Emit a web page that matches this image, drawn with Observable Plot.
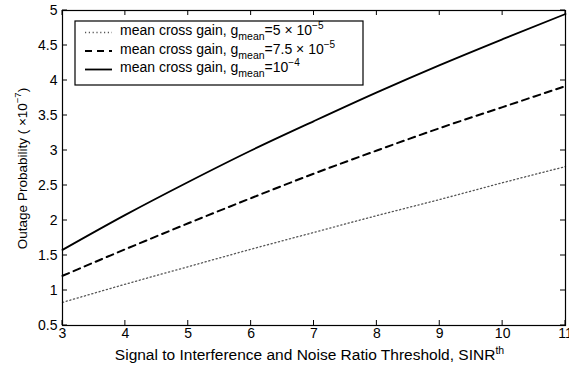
<!DOCTYPE html>
<html><head><meta charset="utf-8">
<script src="https://cdn.jsdelivr.net/npm/d3@7"></script>
<script src="https://cdn.jsdelivr.net/npm/@observablehq/plot@0.6"></script>
<style>
body{margin:0;background:#fff}
svg{font-family:"Liberation Sans",Arial,Helvetica,sans-serif}
</style>
</head><body><div id="chart"></div>
<script>
const sinr = [3, 4, 5, 6, 7, 8, 9, 10, 11];
const gain5 = [0.83, 1.09, 1.34, 1.59, 1.83, 2.07, 2.30, 2.54, 2.77];
const gain75 = [1.21, 1.59, 1.96, 2.32, 2.67, 3.00, 3.32, 3.62, 3.92];
const gain10 = [1.58, 2.08, 2.55, 3.00, 3.42, 3.83, 4.22, 4.59, 4.95];
const xTicks = [3, 4, 5, 6, 7, 8, 9, 10, 11];
const yTicks = [0.5, 1, 1.5, 2, 2.5, 3, 3.5, 4, 4.5, 5];
const legendValues = [["=5 × 10", "−5"], ["=7.5 × 10", "−5"], ["=10", "−4"]];
const xLabel = "Signal to Interference and Noise Ratio Threshold, SINR";
const xLabelSup = "th";
const yLabel = "Outage Probability ( ×10";
const yLabelSup = "−7";

const toRows = vals => sinr.map((x, i) => ({x, y: vals[i]}));
const styles = [
  {stroke: "#555", strokeWidth: 1.3, strokeDasharray: "1.2,2.6"},
  {stroke: "black", strokeWidth: 2, strokeDasharray: "7,5"},
  {stroke: "black", strokeWidth: 1.8}
];
const series = [gain5, gain75, gain10];

const plot = Plot.plot({
  width: 569, height: 368,
  marginLeft: 62, marginRight: 4, marginTop: 10, marginBottom: 43,
  x: {domain: [3, 11], ticks: xTicks, label: null},
  y: {domain: [0.5, 5], ticks: yTicks, label: null},
  style: {fontSize: "14px", fontFamily: "'Liberation Sans',Arial,sans-serif", color: "black", background: "white"},
  marks: [
    ...series.map((s, i) => Plot.line(toRows(s), {x: "x", y: "y", curve: "monotone-x", ...styles[i]})),
    Plot.frame({stroke: "black", strokeWidth: 1.2}),
    Plot.axisX(xTicks, {tickSize: 0, tickPadding: 3, fontSize: 14}),
    Plot.axisY(yTicks, {tickSize: 0, tickPadding: 5, fontSize: 14, tickFormat: d => String(d)})
  ]
});

const svg = d3.select(plot);
const sx = plot.scale("x"), sy = plot.scale("y");
const [L, R] = sx.range, [B, T] = sy.range;
const tk = svg.append("g").attr("stroke", "black").attr("stroke-width", 1);
xTicks.forEach(v => {
  const px = sx.apply(v);
  tk.append("line").attr("x1", px).attr("x2", px).attr("y1", B).attr("y2", B - 5);
  tk.append("line").attr("x1", px).attr("x2", px).attr("y1", T).attr("y2", T + 5);
});
yTicks.forEach(v => {
  const py = sy.apply(v);
  tk.append("line").attr("x1", L).attr("x2", L + 5).attr("y1", py).attr("y2", py);
  tk.append("line").attr("x1", R).attr("x2", R - 5).attr("y1", py).attr("y2", py);
});

// x label
const xl = svg.append("text").attr("x", (L + R) / 2 - 4).attr("y", 360).attr("text-anchor", "middle")
  .attr("font-size", 15.5).attr("fill", "black");
xl.append("tspan").text(xLabel);
xl.append("tspan").attr("dy", -6).attr("font-size", 10.5).text(xLabelSup);

// y label
const yl = svg.append("text").attr("transform", `translate(27,${(T + B) / 2 + 1}) rotate(-90)`)
  .attr("text-anchor", "middle").attr("font-size", 13.5).attr("fill", "black");
yl.append("tspan").text(yLabel);
yl.append("tspan").attr("dy", -6).attr("font-size", 9.5).text(yLabelSup);
yl.append("tspan").attr("dy", 6).text(")");

// legend
const lg = svg.append("g").attr("text-anchor", "start");
lg.append("rect").attr("x", 75).attr("y", 21).attr("width", 288).attr("height", 64)
  .attr("fill", "white").attr("stroke", "black").attr("stroke-width", 1.2);
legendValues.forEach(([val, sup], i) => {
  const base = 35 + i * 18.5;
  const st = styles[i];
  lg.append("line").attr("x1", 85).attr("x2", 112).attr("y1", base - 2.5).attr("y2", base - 2.5)
    .attr("stroke", st.stroke).attr("stroke-width", st.strokeWidth)
    .attr("stroke-dasharray", st.strokeDasharray || null);
  const t = lg.append("text").attr("x", 120).attr("y", base).attr("font-size", 14)
    .attr("text-anchor", "start").attr("fill", "black");
  t.append("tspan").text("mean cross gain, g");
  t.append("tspan").attr("dy", 5).attr("font-size", 10.5).text("mean");
  t.append("tspan").attr("dy", -5).text(val);
  t.append("tspan").attr("dy", -6).attr("font-size", 10).text(sup);
});

document.getElementById("chart").appendChild(plot);
</script>
</body></html>
